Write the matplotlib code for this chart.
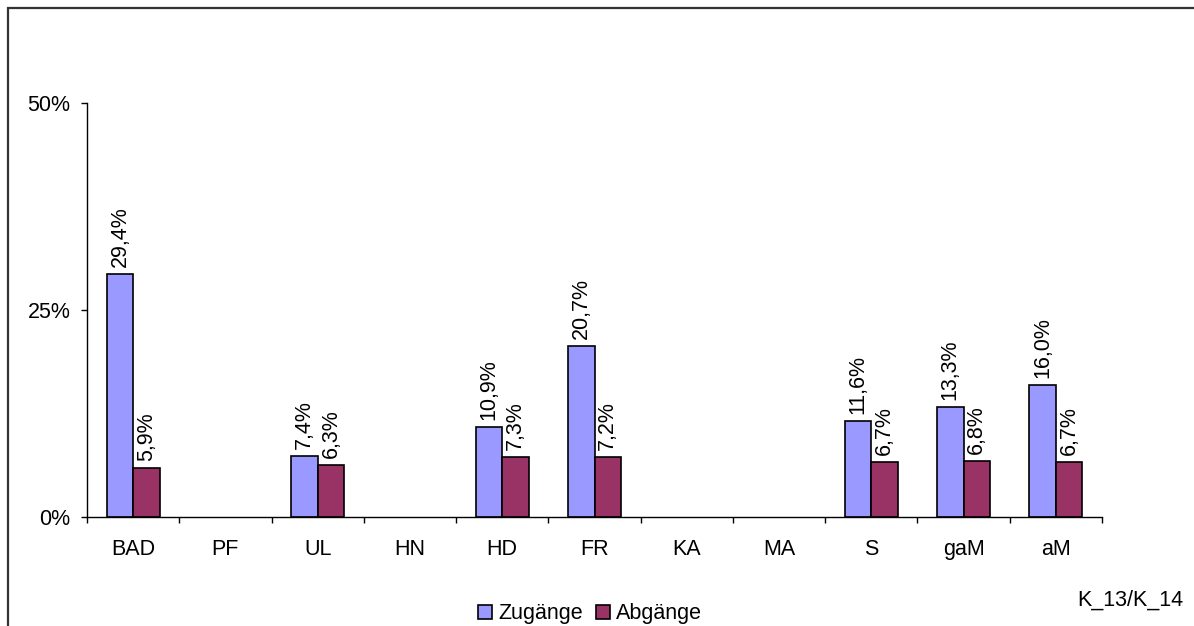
import numpy as np
import matplotlib.pyplot as plt
from matplotlib.patches import Rectangle

plt.rcParams['font.family'] = ['Liberation Sans', 'DejaVu Sans']

kreise = ['BAD', 'PF', 'UL', 'HN', 'HD', 'FR', 'KA', 'MA', 'S', 'gaM', 'aM']
zugaenge = [29.4, np.nan, 7.4, np.nan, 10.9, 20.7, np.nan, np.nan, 11.6, 13.3, 16.0]
abgaenge = [5.9, np.nan, 6.3, np.nan, 7.3, 7.2, np.nan, np.nan, 6.7, 6.8, 6.7]

fs = 15.5

fig = plt.figure(figsize=(11.94, 6.26), dpi=100)
ax = fig.add_axes([87/1194, 1-517/626, (1102-87)/1194, (517-103)/626])

x = np.arange(len(kreise)) + 0.5
w = 0.287
b1 = ax.bar(x - w/2, zugaenge, w, color='#9999FF', edgecolor='black', linewidth=1.2, label='Zugänge')
b2 = ax.bar(x + w/2, abgaenge, w, color='#993366', edgecolor='black', linewidth=1.2, label='Abgänge')

# value labels above the bars
for xs, vals in [(x - w/2, zugaenge), (x + w/2, abgaenge)]:
    for xi, v in zip(xs, vals):
        if np.isnan(v):
            continue
        ax.annotate(f"{v:.1f}%".replace('.', ','), (xi, v), xytext=(0, 5), textcoords='offset points',
                    rotation=90, ha='center', va='bottom', fontsize=fs)

ax.set_xlim(0, len(kreise))
ax.set_ylim(0, 50)
ax.set_yticks([0, 25, 50])
ax.set_yticklabels(['0%', '25%', '50%'])
ax.set_xticks(np.arange(len(kreise) + 1))
ax.set_xticklabels([])
ax.set_xticks(x, minor=True)
ax.set_xticklabels(kreise, minor=True)
ax.tick_params(axis='x', which='major', direction='out', length=4, width=1)
ax.tick_params(axis='x', which='minor', length=0, pad=16, labelsize=fs)
ax.tick_params(axis='y', direction='out', length=4, width=1, pad=8, labelsize=fs)
for s in ['top', 'right']:
    ax.spines[s].set_visible(False)
for s in ['left', 'bottom']:
    ax.spines[s].set_linewidth(1)

fig.legend(handles=[b1, b2], loc='center', bbox_to_anchor=(590/1194, 1-614/626), ncol=2,
           frameon=False, fontsize=fs, handlelength=0.65, handleheight=0.65,
           handletextpad=0.3, columnspacing=0.6, borderpad=0)

fig.text(1183/1194, 1-600/626, 'K_13/K_14', ha='right', va='center', fontsize=fs)

# frame around the whole figure (right and bottom edges fall outside)
fig.patches.append(Rectangle((8/1194, -0.1), 1.2, 1.1 - 8/626, transform=fig.transFigure,
                             fill=False, edgecolor='#333333', linewidth=1.6))

fig.savefig('out.png', dpi=100)
